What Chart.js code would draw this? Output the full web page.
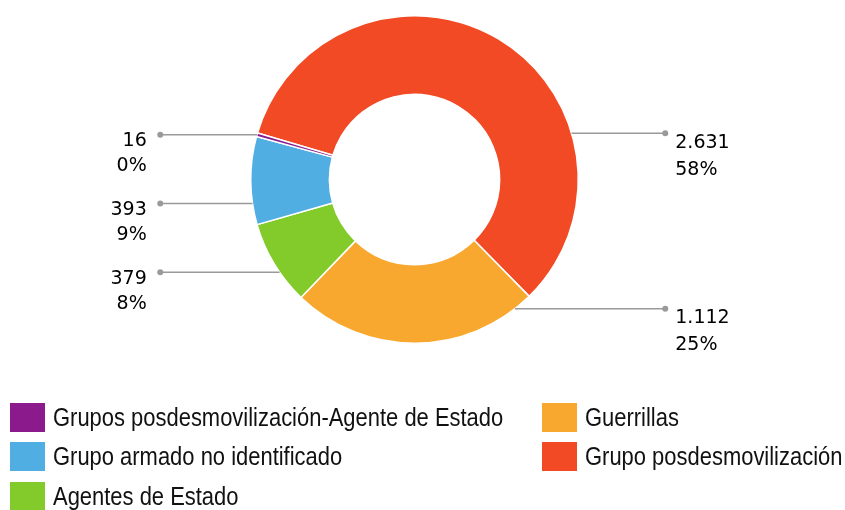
<!DOCTYPE html>
<html>
<head>
<meta charset="utf-8">
<script src="https://cdn.jsdelivr.net/npm/chart.js@4.4.1/dist/chart.umd.min.js"></script>
<style>
  html, body { margin: 0; padding: 0; background: #ffffff; overflow: hidden; }
  #wrap { position: relative; width: 845px; height: 510px; }
  #c { position: absolute; left: 0; top: 0; }
  .lg-item { position: absolute; height: 29px; white-space: nowrap; }
  .lg-box { position: absolute; left: 0; top: 0; width: 35px; height: 29px; }
  .lg-text { position: absolute; left: 43px; top: 0; line-height: 29px; font-size: 25px;
             font-family: "Liberation Sans", Arial, sans-serif; color: #111;
             transform: scaleX(0.878); transform-origin: 0 50%; }
</style>
</head>
<body>
<div id="wrap">
  <canvas id="c" width="845" height="510"></canvas>
  <div id="legend"></div>
</div>
<script>
// ---- data (legend order) ----
const categories = [
  'Grupos posdesmovilización-Agente de Estado',
  'Grupo armado no identificado',
  'Agentes de Estado',
  'Guerrillas',
  'Grupo posdesmovilización'
];
const values = [16, 393, 379, 1112, 2631];
const colors = ['#8B1A8C', '#51AEE3', '#82CB2A', '#F8A82E', '#F24A25'];

// ---- helpers ----
const total = values.reduce((a, b) => a + b, 0);
function fmtThousands(v) { return String(v).replace(/\B(?=(\d{3})+(?!\d))/g, '.'); }

// The doughnut runs counter-clockwise in legend order; draw reversed clockwise.
const order = values.map((_, i) => i).reverse();
const chartLabels = order.map(i => categories[i]);
const chartValues = order.map(i => values[i]);
const chartColors = order.map(i => colors[i]);

const calloutPlugin = {
  id: 'callouts',
  afterDatasetsDraw(chart) {
    const meta = chart.getDatasetMeta(0);
    const arcs = meta.data;
    if (!arcs.length) return;
    const ctx = chart.ctx;
    const cx = arcs[0].x, cy = arcs[0].y, R = arcs[0].outerRadius;
    const items = arcs.map((a, i) => {
      const mid = (a.startAngle + a.endAngle) / 2;
      let fromTop = (mid + Math.PI / 2) % (2 * Math.PI);
      if (fromTop < 0) fromTop += 2 * Math.PI;
      return { i, mid, side: fromTop < Math.PI ? 'right' : 'left', y: cy + Math.sin(mid) * R };
    });
    const top = cy - 0.283 * R, bottom = cy + 0.79 * R, gap = 0.42 * R;
    ['left', 'right'].forEach(side => {
      const list = items.filter(it => it.side === side).sort((a, b) => a.y - b.y);
      let prev = -Infinity;
      list.forEach(it => {
        let y = Math.min(Math.max(it.y, top), bottom);
        y = Math.max(y, prev + gap);
        it.ly = y; prev = y;
      });
    });
    ctx.save();
    items.forEach(it => {
      const dy = it.ly - cy;
      const edge = Math.sqrt(Math.max(R * R - dy * dy, 0));
      const left = it.side === 'left';
      const dotX = left ? cx - R - 90.5 : cx + R + 87;
      const endX = left ? cx - edge : cx + edge;
      ctx.strokeStyle = '#9a9a9a';
      ctx.lineWidth = 1.5;
      ctx.beginPath();
      ctx.moveTo(dotX, it.ly);
      ctx.lineTo(endX, it.ly);
      ctx.stroke();
      ctx.fillStyle = '#9a9a9a';
      ctx.beginPath();
      ctx.arc(dotX, it.ly, 3, 0, Math.PI * 2);
      ctx.fill();
      const v = chartValues[it.i];
      const pct = Math.round(v / total * 100) + '%';
      ctx.fillStyle = '#000000';
      ctx.font = '19px "DejaVu Sans", sans-serif';
      ctx.textBaseline = 'alphabetic';
      if (left) {
        ctx.textAlign = 'right';
        ctx.fillText(fmtThousands(v), dotX - 13.5, it.ly + 11.5);
        ctx.fillText(pct, dotX - 13.5, it.ly + 36.5);
      } else {
        ctx.textAlign = 'left';
        ctx.fillText(fmtThousands(v), dotX + 10, it.ly + 14.5);
        ctx.fillText(pct, dotX + 10, it.ly + 41.5);
      }
    });
    ctx.restore();
  }
};

new Chart(document.getElementById('c'), {
  type: 'doughnut',
  data: {
    labels: chartLabels,
    datasets: [{
      data: chartValues,
      backgroundColor: chartColors,
      borderColor: '#ffffff',
      borderWidth: 1.5
    }]
  },
  options: {
    responsive: false,
    animation: false,
    devicePixelRatio: 1,
    rotation: -73.5,
    cutout: '52%',
    layout: { padding: { top: 15, bottom: 166, left: 100, right: 116 } },
    plugins: { legend: { display: false }, tooltip: { enabled: false } }
  },
  plugins: [calloutPlugin]
});

// ---- HTML legend: two columns, filled top to bottom ----
const legend = document.getElementById('legend');
const colX = [10, 542];
const rowY = [403, 442, 482];
categories.forEach((name, i) => {
  const col = i < 3 ? 0 : 1;
  const row = i < 3 ? i : i - 3;
  const item = document.createElement('div');
  item.className = 'lg-item';
  item.style.left = colX[col] + 'px';
  item.style.top = rowY[row] + 'px';
  const box = document.createElement('span');
  box.className = 'lg-box';
  box.style.background = colors[i];
  const txt = document.createElement('span');
  txt.className = 'lg-text';
  txt.textContent = name;
  item.appendChild(box);
  item.appendChild(txt);
  legend.appendChild(item);
});
</script>
</body>
</html>
